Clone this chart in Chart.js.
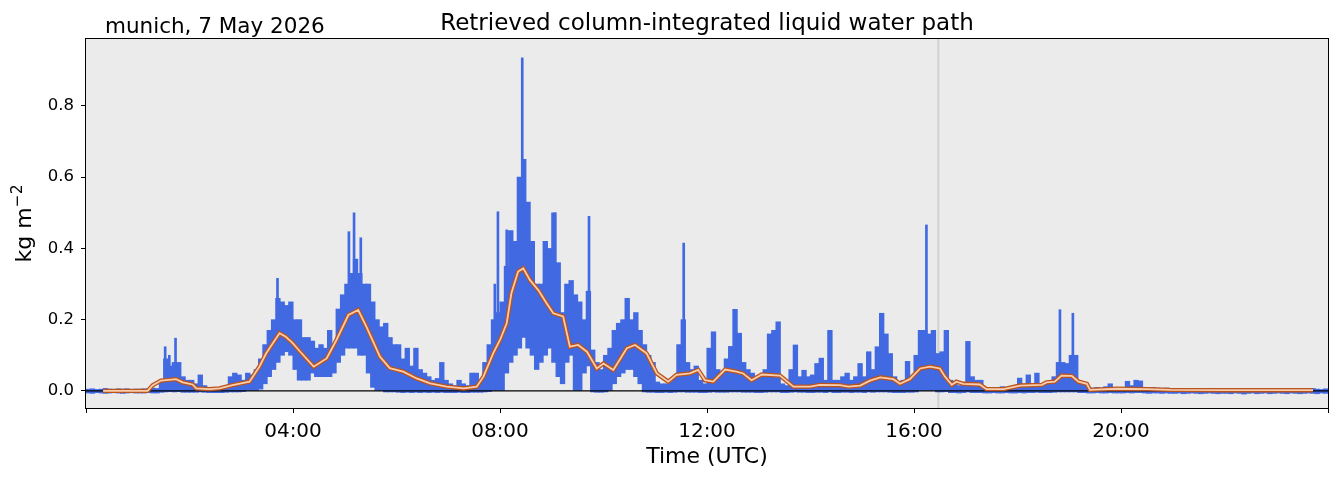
<!DOCTYPE html>
<html><head><meta charset="utf-8">
<script src="https://cdn.jsdelivr.net/npm/chart.js@4/dist/chart.umd.min.js"></script>
<style>html,body{margin:0;padding:0;background:#fff;overflow:hidden}#wrap{width:1339px;height:478px;position:relative}</style>
</head><body><div id="wrap"><canvas id="c" width="1339" height="478"></canvas></div>
<script>
const titleText = 'Retrieved column-integrated liquid water path';
const siteText = 'munich, 7 May 2026';
const xTitle = 'Time (UTC)';
const hourTicks = [0, 4, 8, 12, 16, 20, 24];
const hourLabels = ['', '04:00', '08:00', '12:00', '16:00', '20:00', ''];
const yTicks = [0, 0.2, 0.4, 0.6, 0.8];
const binMinutes = 5;
const blueHi = [
 0.005,0.006,0.004,0.005,0.007,0.005,0.004,0.006,0.005,0.006,0.004,0.005,
 0.005,0.006,0.005,0.008,0.007,0.03,0.09,0.07,0.08,0.08,0.04,0.03,
 0.03,0.02,0.045,0.015,0.01,0.008,0.008,0.01,0.012,0.04,0.05,0.045,
 0.03,0.05,0.045,0.06,0.09,0.13,0.17,0.2,0.26,0.25,0.24,0.25,
 0.2,0.2,0.15,0.15,0.14,0.12,0.13,0.12,0.17,0.13,0.23,0.27,
 0.3,0.33,0.37,0.33,0.3,0.3,0.25,0.2,0.18,0.19,0.15,0.13,
 0.13,0.09,0.12,0.07,0.12,0.06,0.05,0.04,0.03,0.035,0.08,0.03,
 0.02,0.015,0.03,0.02,0.015,0.05,0.05,0.03,0.08,0.13,0.2,0.22,
 0.25,0.35,0.45,0.42,0.6,0.65,0.53,0.42,0.3,0.3,0.42,0.4,
 0.5,0.36,0.22,0.3,0.31,0.27,0.25,0.2,0.28,0.115,0.08,0.06,
 0.1,0.12,0.17,0.19,0.2,0.26,0.2,0.22,0.17,0.13,0.1,0.08,
 0.025,0.02,0.02,0.025,0.04,0.13,0.2,0.08,0.06,0.07,0.03,0.02,
 0.12,0.166,0.06,0.05,0.09,0.125,0.229,0.162,0.08,0.06,0.05,0.04,
 0.04,0.06,0.16,0.17,0.194,0.02,0.015,0.06,0.129,0.04,0.058,0.04,
 0.045,0.077,0.092,0.03,0.17,0.03,0.03,0.04,0.05,0.03,0.04,0.077,
 0.04,0.11,0.06,0.124,0.218,0.16,0.105,0.04,0.02,0.03,0.083,0.04,
 0.1,0.17,0.17,0.16,0.17,0.105,0.11,0.17,0.03,0.02,0.015,0.02,
 0.139,0.04,0.03,0.03,0.01,0.008,0.01,0.008,0.012,0.01,0.008,0.01,
 0.036,0.015,0.045,0.02,0.05,0.02,0.02,0.02,0.04,0.08,0.08,0.077,
 0.1,0.1,0.02,0.02,0.008,0.008,0.01,0.008,0.012,0.02,0.01,0.008,
 0.01,0.027,0.015,0.03,0.028,0.008,0.006,0.01,0.008,0.006,0.008,0.007,
 0.006,0.005,0.007,0.005,0.004,0.006,0.005,0.007,0.005,0.006,0.004,0.005,
 0.005,0.006,0.004,0.006,0.005,0.007,0.005,0.004,0.006,0.005,0.006,0.005,
 0.006,0.004,0.005,0.006,0.005,0.004,0.006,0.005,0.007,0.005,0.004,0.006
];
const blueLo = [
 -0.006,-0.007,-0.005,-0.006,-0.007,-0.006,-0.005,-0.006,-0.007,-0.006,-0.005,-0.006,
 -0.006,-0.006,-0.005,-0.006,-0.006,-0.004,-0.003,-0.002,-0.003,-0.002,-0.004,-0.004,
 -0.004,-0.004,-0.003,-0.004,-0.005,-0.005,-0.005,-0.005,-0.004,-0.003,-0.003,-0.003,
 -0.002,0,0,0,0.005,0.02,0.04,0.06,0.08,0.1,0.11,0.1,
 0.06,0.03,0.03,0.03,0.05,0.04,0.04,0.04,0.04,0.05,0.08,0.1,
 0.12,0.12,0.12,0.1,0.1,0.05,0.01,0,0,-0.003,-0.003,-0.003,
 -0.004,-0.005,-0.004,-0.005,-0.004,-0.005,-0.004,-0.005,-0.004,-0.005,-0.004,-0.005,
 -0.005,-0.005,-0.004,-0.005,-0.005,-0.004,-0.004,-0.004,-0.003,-0.002,0,0,
 0,0.05,0.08,0.1,0.12,0.15,0.12,0.1,0.06,0.08,0.1,0.12,
 0.08,0.04,0.02,0.08,0.1,0,0,0.05,0.07,-0.003,-0.004,-0.004,
 -0.003,0,0.02,0.04,0.05,0.06,0.06,0.04,0.02,-0.003,-0.004,-0.004,
 -0.005,-0.005,-0.004,-0.005,-0.004,-0.003,-0.003,-0.004,-0.004,-0.004,-0.005,-0.005,
 -0.004,-0.003,-0.004,-0.004,-0.004,-0.003,-0.003,-0.003,-0.004,-0.004,-0.004,-0.005,
 -0.005,-0.004,-0.003,-0.003,-0.003,-0.005,-0.005,-0.004,-0.003,-0.004,-0.004,-0.005,
 -0.005,-0.004,-0.004,-0.005,-0.003,-0.005,-0.005,-0.004,-0.004,-0.005,-0.004,-0.004,
 -0.005,-0.003,-0.004,-0.003,-0.003,-0.003,-0.004,-0.005,-0.005,-0.005,-0.004,-0.004,
 -0.003,0,0,0,0,-0.003,-0.003,-0.002,-0.005,-0.005,-0.006,-0.005,
 -0.003,-0.005,-0.005,-0.005,-0.006,-0.006,-0.005,-0.006,-0.006,-0.005,-0.006,-0.006,
 -0.005,-0.006,-0.005,-0.005,-0.004,-0.005,-0.005,-0.005,-0.004,-0.003,-0.003,-0.003,
 -0.003,-0.003,-0.005,-0.005,-0.006,-0.006,-0.005,-0.006,-0.006,-0.005,-0.006,-0.006,
 -0.006,-0.005,-0.006,-0.005,-0.005,-0.006,-0.007,-0.006,-0.006,-0.007,-0.006,-0.007,
 -0.007,-0.006,-0.008,-0.007,-0.006,-0.007,-0.008,-0.007,-0.006,-0.007,-0.008,-0.007,
 -0.007,-0.008,-0.006,-0.007,-0.009,-0.007,-0.006,-0.008,-0.007,-0.006,-0.008,-0.007,
 -0.006,-0.007,-0.008,-0.006,-0.007,-0.008,-0.007,-0.006,-0.007,-0.008,-0.006,-0.007
];
const spikeTimes = [1.53, 1.61, 1.73, 3.70, 5.08, 5.18, 5.31, 7.90, 7.96, 8.13, 8.43, 9.06, 9.72, 11.55, 16.24, 18.82, 19.07];
const spikeBases = [0.05, 0.05, 0.05, 0.2, 0.25, 0.3, 0.3, 0.1, 0.15, 0.2, 0.4, 0.3, 0.2, 0.1, 0.1, 0.05, 0.05];
const spikeTops  = [0.124, 0.10, 0.148, 0.316, 0.447, 0.50, 0.43, 0.30, 0.503, 0.452, 0.935, 0.50, 0.49, 0.415, 0.466, 0.228, 0.218];
const smoothTime = [0.33,1.19,1.29,1.45,1.74,1.87,2.06,2.13,2.38,2.58,2.83,3.16,3.35,3.48,3.61,3.74,3.86,3.99,4.14,4.4,4.65,4.84,5.07,5.26,5.42,5.68,5.87,6.13,6.39,6.65,6.97,7.3,7.55,7.68,7.87,8.0,8.13,8.22,8.35,8.45,8.58,8.74,8.9,9.03,9.22,9.35,9.51,9.68,9.87,10.0,10.19,10.45,10.61,10.83,11.03,11.25,11.41,11.67,11.83,11.96,12.12,12.35,12.57,12.7,12.86,13.06,13.41,13.67,13.99,14.18,14.57,14.73,14.96,15.15,15.35,15.6,15.73,15.92,16.12,16.31,16.5,16.6,16.73,16.82,16.95,17.27,17.4,17.73,18.05,18.47,18.56,18.72,18.85,19.05,19.18,19.34,19.4,19.92,20.5,20.95,22.0,23.71];
const smoothValue = [0.0,0.0,0.016,0.029,0.033,0.024,0.018,0.007,0.005,0.007,0.016,0.026,0.068,0.105,0.134,0.162,0.152,0.135,0.11,0.068,0.091,0.143,0.213,0.227,0.18,0.096,0.064,0.054,0.035,0.021,0.012,0.007,0.012,0.04,0.106,0.143,0.19,0.274,0.335,0.344,0.311,0.283,0.246,0.218,0.209,0.124,0.129,0.11,0.063,0.077,0.059,0.12,0.129,0.106,0.049,0.026,0.045,0.049,0.059,0.03,0.026,0.06,0.054,0.049,0.03,0.046,0.043,0.012,0.012,0.017,0.016,0.012,0.015,0.029,0.038,0.033,0.02,0.033,0.063,0.068,0.063,0.04,0.017,0.026,0.02,0.018,0.005,0.005,0.015,0.017,0.024,0.026,0.043,0.042,0.026,0.02,0.003,0.006,0.005,0.003,0.002,0.002];
const zeroLineX = [0, 24];
const zeroLineY = [0, 0];
const markerTime = 16.47;

const FONT = "'DejaVu Sans', sans-serif";
const bodyData = blueHi.map((hi, i) => ({x: (i + 0.5) * binMinutes / 60, y: [blueLo[i], hi]}));
const spikeData = spikeTimes.map((t, i) => ({x: t, y: [spikeBases[i], spikeTops[i]]}));
const smoothData = smoothTime.map((t, i) => ({x: t, y: smoothValue[i]}));
const zeroData = zeroLineX.map((t, i) => ({x: t, y: zeroLineY[i]}));

const decor = {
  id: 'decor',
  beforeDraw(chart) {
    const {ctx, chartArea: a} = chart;
    ctx.save();
    ctx.fillStyle = '#fff';
    ctx.fillRect(0, 0, chart.width, chart.height);
    ctx.fillStyle = '#ebebeb';
    ctx.fillRect(a.left, a.top, a.right - a.left, a.bottom - a.top);
    ctx.restore();
  },
  beforeDatasetsDraw(chart) {
    const {ctx, chartArea: a, scales} = chart;
    const x = scales.x.getPixelForValue(markerTime);
    ctx.save();
    ctx.strokeStyle = '#d0d0d0';
    ctx.lineWidth = 2;
    ctx.beginPath(); ctx.moveTo(x, a.top); ctx.lineTo(x, a.bottom); ctx.stroke();
    ctx.restore();
  },
  afterDraw(chart) {
    const {ctx, chartArea: a} = chart;
    ctx.save();
    ctx.strokeStyle = '#000';
    ctx.lineWidth = 1;
    ctx.strokeRect(Math.round(a.left) - 0.5, Math.round(a.top) - 0.5, Math.round(a.right - a.left) + 1, Math.round(a.bottom - a.top) + 1);
    ctx.fillStyle = '#000';
    ctx.textBaseline = 'alphabetic';
    ctx.font = '23px ' + FONT;
    ctx.textAlign = 'center';
    ctx.fillText(titleText, (a.left + a.right) / 2, 30);
    ctx.font = '21.5px ' + FONT;
    ctx.textAlign = 'left';
    ctx.fillText(siteText, 105, 33);
    ctx.font = '22px ' + FONT;
    ctx.textAlign = 'center';
    ctx.fillText(xTitle, (a.left + a.right) / 2, 463);
    // y label
    ctx.translate(31, (a.top + a.bottom) / 2);
    ctx.rotate(-Math.PI / 2);
    const main = 'kg m';
    const sup = '\u22122';
    ctx.font = '22px ' + FONT;
    const wMain = ctx.measureText(main).width;
    ctx.font = '15.5px ' + FONT;
    const wSup = ctx.measureText(sup).width;
    const start = -(wMain + wSup) / 2;
    ctx.textAlign = 'left';
    ctx.font = '22px ' + FONT;
    ctx.fillText(main, start, 0);
    ctx.font = '15.5px ' + FONT;
    ctx.fillText(sup, start + wMain, -9);
    ctx.restore();
  }
};

new Chart(document.getElementById('c'), {
  type: 'bar',
  data: {
    datasets: [
      {type: 'line', data: smoothData, borderColor: '#f9cdac', borderWidth: 1.8, pointRadius: 0, tension: 0, order: 0},
      {type: 'line', data: smoothData, borderColor: '#b9541f', borderWidth: 4.4, pointRadius: 0, tension: 0, order: 1},
      {type: 'line', data: zeroData, borderColor: '#000', borderWidth: 1.2, pointRadius: 0, order: 2},
      {type: 'bar', data: spikeData, backgroundColor: '#4169e1', barThickness: 2, grouped: false, order: 3},
      {type: 'bar', data: bodyData, backgroundColor: '#4169e1', barThickness: 4.7, grouped: false, order: 4}
    ]
  },
  options: {
    responsive: false,
    animation: false,
    devicePixelRatio: 1,
    events: [],
    layout: {padding: {top: 39, right: 11, left: 0, bottom: 0}},
    plugins: {legend: {display: false}, tooltip: {enabled: false}, title: {display: false}},
    scales: {
      x: {
        type: 'linear', min: 0, max: 24, offset: false,
        afterFit: s => { s.height = 70; },
        afterBuildTicks: s => { s.ticks = hourTicks.map(v => ({value: v})); },
        ticks: {
          autoSkip: false, maxRotation: 0, color: '#000', padding: 7,
          font: {family: FONT, size: 20},
          callback: (v) => { const k = hourTicks.indexOf(v); return k >= 0 ? hourLabels[k] : ''; }
        },
        grid: {display: true, offset: false, drawOnChartArea: false, drawTicks: true, tickLength: 5, tickColor: '#000', tickWidth: 1},
        border: {display: false}
      },
      y: {
        type: 'linear', min: -0.048, max: 0.988,
        afterFit: s => { s.width = 86; },
        afterBuildTicks: s => { s.ticks = yTicks.map(v => ({value: v})); },
        ticks: {
          color: '#000', padding: 7,
          font: {family: FONT, size: 16.5},
          callback: v => Number(v).toFixed(1)
        },
        grid: {display: true, offset: false, drawOnChartArea: false, drawTicks: true, tickLength: 5, tickColor: '#000', tickWidth: 1},
        border: {display: false}
      }
    }
  },
  plugins: [decor]
});
</script></body></html>
